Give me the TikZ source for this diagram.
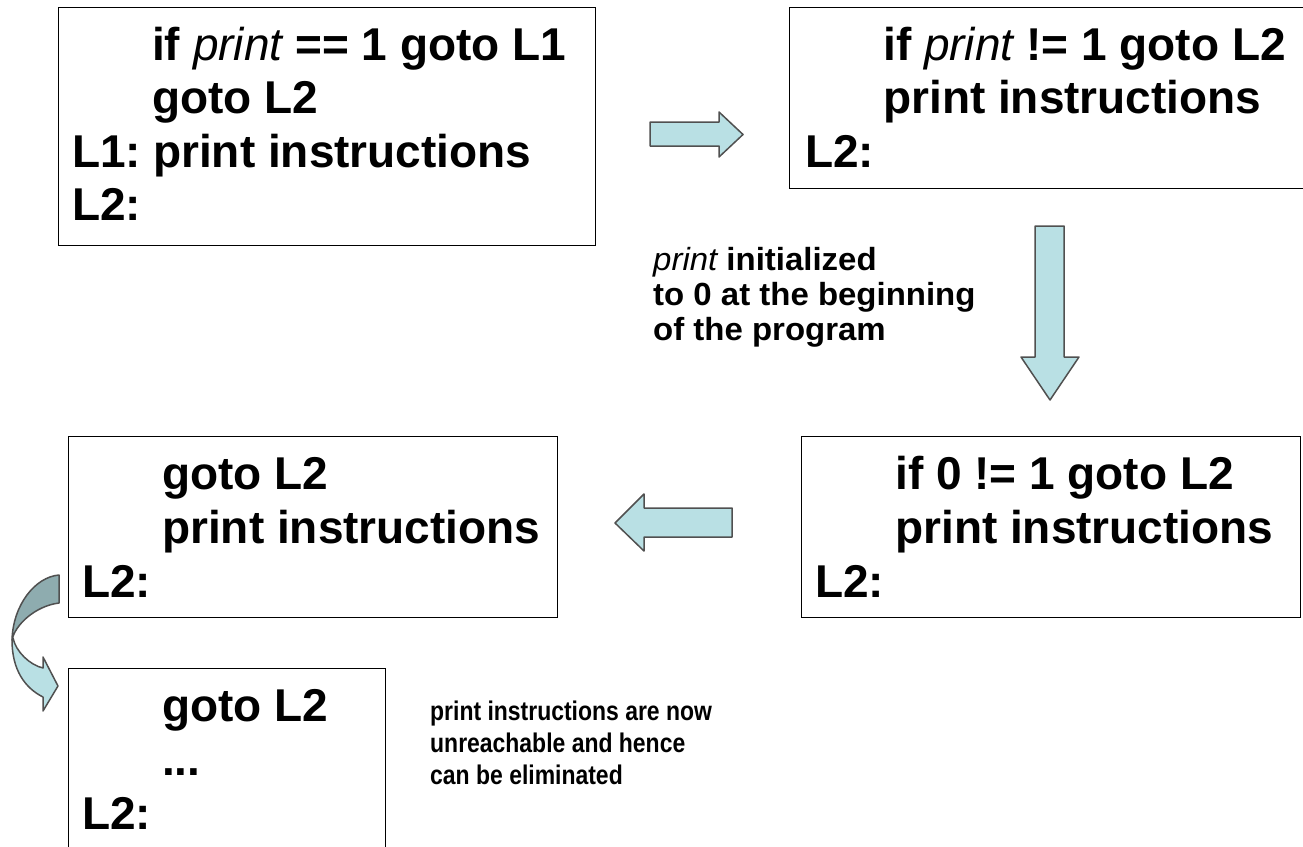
\documentclass[tikz,border=0pt]{standalone}
\usepackage{fontspec}
\setmainfont{Liberation Sans}
\newfontfamily\bigf{Liberation Sans}
\newfontfamily\midf[FakeStretch=1.03]{Liberation Sans}
\newfontfamily\lowf[FakeStretch=0.85]{Liberation Sans}
\definecolor{arrowfill}{RGB}{185,224,228}
\definecolor{arrowdark}{RGB}{142,172,175}
\definecolor{arrowline}{RGB}{80,80,80}
\begin{document}
\begin{tikzpicture}[x=1pt,y=-1pt,
  box/.style={draw=black,line width=1.3pt,inner sep=0pt,anchor=north west},
  codeline/.style={anchor=base west,inner sep=0pt,font=\bigf\bfseries\fontsize{46}{53}\selectfont},
  midline/.style={anchor=base west,inner sep=0pt,font=\midf\bfseries\fontsize{32}{36}\selectfont},
  lowline/.style={anchor=base west,inner sep=0pt,font=\lowf\bfseries\fontsize{27}{32}\selectfont},
  blockarrow/.style={fill=arrowfill,draw=arrowline,line width=1.5pt,line join=round}]
\useasboundingbox (0,0) rectangle (1303,846);
\clip (0,0) rectangle (1303,846);
\newcommand{\pv}{{\mdseries\itshape print}}
% boxes
\node[box,minimum width=537pt,minimum height=238pt] (b1) at (58,7) {};
\node[box,minimum width=531pt,minimum height=181pt] (b2) at (789,7) {};
\node[box,minimum width=489pt,minimum height=181pt] (b3) at (68,436) {};
\node[box,minimum width=499pt,minimum height=181pt] (b4) at (801,436) {};
\node[box,minimum width=317pt,minimum height=202pt] (b5) at (68,668) {};
% box 1 text
\node[codeline] (t11) at (152,60) {if \pv{} == 1 goto L1};
\node[codeline] (t12) at (152,113) {goto L2};
\node[codeline] (t13) at (72,167) {\makebox[81pt][l]{L1:}print instructions};
\node[codeline] (t14) at (72,220) {L2:};
% box 2 text
\node[codeline] (t21) at (883,60) {if \pv{} != 1 goto L2};
\node[codeline] (t22) at (883,113) {print instructions};
\node[codeline] (t23) at (805,167) {L2:};
% box 3 text
\node[codeline] (t31) at (162,489) {goto L2};
\node[codeline] (t32) at (162,543) {print instructions};
\node[codeline] (t33) at (82,597) {L2:};
% box 4 text
\node[codeline] (t41) at (895,489) {if 0 != 1 goto L2};
\node[codeline] (t42) at (895,543) {print instructions};
\node[codeline] (t43) at (815,597) {L2:};
% box 5 text
\node[codeline] (t51) at (162,721) {goto L2};
\node[codeline] (t52) at (162,775) {...};
\node[codeline] (t53) at (82,829) {L2:};
% middle note
\node[midline] (m1) at (653,270) {\pv{} initialized};
\node[midline] (m2) at (653,305) {to 0 at the beginning};
\node[midline] (m3) at (653,340) {of the program};
% bottom note
\node[lowline] (n1) at (430,720) {print instructions are now};
\node[lowline] (n2) at (430,752) {unreachable and hence};
\node[lowline] (n3) at (430,784) {can be eliminated};
% block arrows
\draw[blockarrow] (650,122) -- (719,122) -- (719,112) -- (743,134.5) -- (719,157) -- (719,146) -- (650,146) -- cycle;
\draw[blockarrow] (1035,226) -- (1064,226) -- (1064,357) -- (1079,357) -- (1050,400) -- (1021,357) -- (1035,357) -- cycle;
\draw[blockarrow] (732,508) -- (644,508) -- (644,494) -- (615,523) -- (644,551) -- (644,537) -- (732,537) -- cycle;
% curved arrow
\draw[blockarrow] (13,638) .. controls (16,652) and (30,665) .. (43,668) -- (43,657) -- (58,686) -- (43,711) -- (43,697) .. controls (25,688) and (12,670) .. (12,640) -- cycle;
\draw[blockarrow,fill=arrowdark] (59,575) .. controls (35,577) and (13,605) .. (12,640) .. controls (15,625) and (35,606) .. (59,603) -- cycle;
\end{tikzpicture}
\end{document}
